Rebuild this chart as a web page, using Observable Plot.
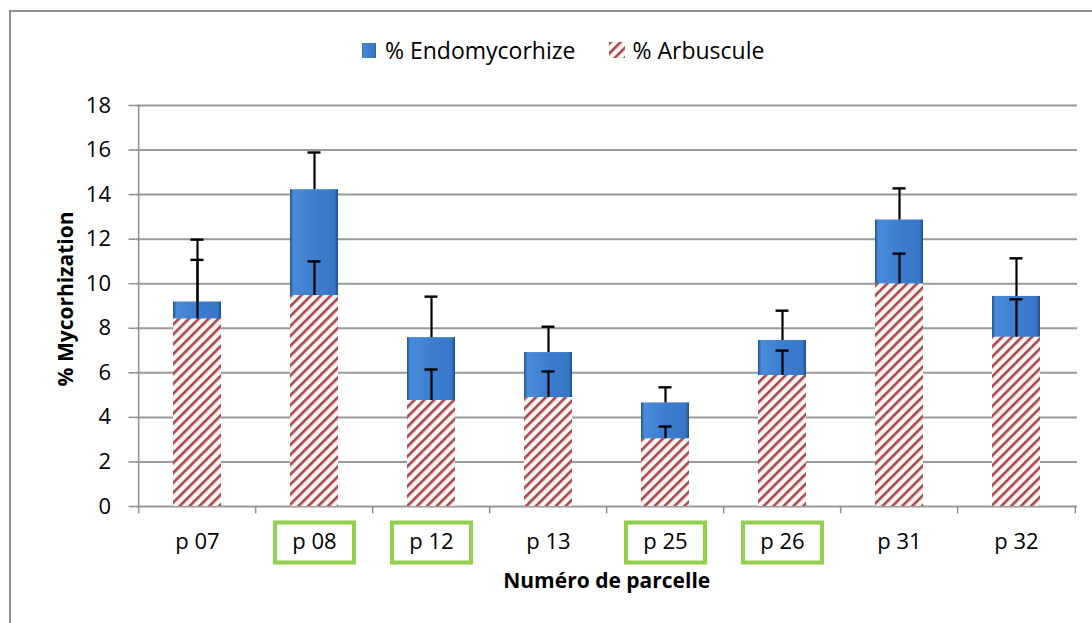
<!DOCTYPE html>
<html>
<head>
<meta charset="utf-8">
<script src="https://cdn.jsdelivr.net/npm/d3@7"></script>
<script src="https://cdn.jsdelivr.net/npm/@observablehq/plot@0.6"></script>
<style>
  html, body { margin: 0; padding: 0; background: #fff; overflow: hidden; }
  body { width: 1092px; height: 623px; position: relative; font-family: "Open Sans", sans-serif; }
  #frame { position: absolute; left: 9px; top: 10px; width: 1100px; height: 700px; border: 2px solid #8e8e8e; box-sizing: border-box; }
  #legend { position: relative; height: 80px; box-sizing: border-box; padding-top: 36px; padding-left: 362px; display: flex; align-items: flex-start; font-size: 23px; line-height: 28px; color: #000; }
  #legend .item { display: flex; align-items: center; height: 28px; }
  #legend svg { display: block; }
  #chart { position: relative; }
</style>
</head>
<body>
<svg width="0" height="0" style="position:absolute">
  <defs>
    <linearGradient id="blueH" x1="0" y1="0" x2="1" y2="0">
      <stop offset="0" stop-color="#25548f"/>
      <stop offset="0.07" stop-color="#4a8bd9"/>
      <stop offset="0.5" stop-color="#3c7dcf"/>
      <stop offset="0.93" stop-color="#3877c8"/>
      <stop offset="1" stop-color="#214c88"/>
    </linearGradient>
    <pattern id="hatch" patternUnits="userSpaceOnUse" width="7" height="7" patternTransform="rotate(45)">
      <rect x="0" y="0" width="7" height="7" fill="#fdf3f3"/>
      <rect x="0" y="0" width="2.6" height="7" fill="#a3484b"/>
    </pattern>
  </defs>
</svg>
<div id="frame"></div>
<div id="legend">
  <div class="item"><svg width="14" height="15"><rect width="14" height="15" fill="url(#blueH)"/></svg><span style="margin-left:9px">% Endomycorhize</span></div>
  <div class="item" style="margin-left:34px"><svg width="16" height="16"><rect width="16" height="16" fill="url(#hatch)"/></svg><span style="margin-left:7px">% Arbuscule</span></div>
</div>
<div id="chart"></div>
<script>
const categories = ["p 07", "p 08", "p 12", "p 13", "p 25", "p 26", "p 31", "p 32"];
const endomycorhize = [9.18, 14.22, 7.58, 6.91, 4.65, 7.45, 12.86, 9.43];
const endomycorhizeErr = [2.80, 1.67, 1.84, 1.16, 0.70, 1.34, 1.42, 1.71];
const arbuscule = [8.42, 9.47, 4.76, 4.89, 3.04, 5.88, 9.99, 7.60];
const arbusculeErr = [2.65, 1.53, 1.39, 1.17, 0.55, 1.12, 1.36, 1.70];
const highlighted = ["p 08", "p 12", "p 25", "p 26"];
const yTicks = [0, 2, 4, 6, 8, 10, 12, 14, 16, 18];

const endoData = categories.map((c, i) => ({cat: c, v: endomycorhize[i], e: endomycorhizeErr[i]}));
const arbData = categories.map((c, i) => ({cat: c, v: arbuscule[i], e: arbusculeErr[i]}));

const W = 1092, H = 543;
const mL = 135.5, mR = 15, mT = 25, mB = 117;
const step = (W - mL - mR) / categories.length;
const gray = "#8e8e8e";
const boxSymbol = {draw(ctx) { ctx.rect(-39.5, -20, 79, 40); }};

const plot = Plot.plot({
  width: W, height: H,
  marginLeft: mL, marginRight: mR, marginTop: mT, marginBottom: mB,
  style: {fontFamily: "'Open Sans', sans-serif", fontSize: "22px", color: "#000", background: "transparent", overflow: "visible"},
  x: {type: "band", domain: categories, paddingInner: 0.592, paddingOuter: 0.296, label: null},
  y: {domain: [0, 18], label: null},
  marks: [
    Plot.gridY(yTicks, {stroke: "#9a9a9a", strokeOpacity: 1, strokeWidth: 2}),
    Plot.axisY(yTicks, {tickSize: 7, tickPadding: 18, stroke: gray, strokeWidth: 1.5, fill: "#000", fontSize: 22, label: null, tickFormat: d => d}),
    Plot.axisX({tickSize: 0, tickPadding: 27, fill: "#000", fontSize: 22, label: null}),
    // y axis line
    Plot.ruleX([categories[0]], {x: d => d, dx: -step / 2, y1: 0, y2: 18, stroke: gray, strokeWidth: 1.5}),
    // category separators on the x axis
    Plot.ruleX(categories, {x: d => d, dx: -step / 2, y1: 0, y2: -0.33, stroke: gray, strokeWidth: 1.5}),
    Plot.ruleX([categories[categories.length - 1]], {x: d => d, dx: step / 2, y1: 0, y2: -0.33, stroke: gray, strokeWidth: 1.5}),
    // endomycorhize bars + error
    Plot.barY(endoData, {x: "cat", y: "v", fill: "url(#blueH)"}),
    Plot.ruleX(endoData, {x: "cat", y1: "v", y2: d => d.v + d.e, stroke: "#000", strokeWidth: 2.2}),
    Plot.tickY(endoData, {x: "cat", y: d => d.v + d.e, insetLeft: 17.5, insetRight: 17.5, stroke: "#000", strokeWidth: 2.4}),
    // arbuscule bars + error
    Plot.barY(arbData, {x: "cat", y: "v", fill: "url(#hatch)"}),
    Plot.ruleX(arbData, {x: "cat", y1: "v", y2: d => d.v + d.e, stroke: "#000", strokeWidth: 2.2}),
    Plot.tickY(arbData, {x: "cat", y: d => d.v + d.e, insetLeft: 17.5, insetRight: 17.5, stroke: "#000", strokeWidth: 2.4}),
    // highlighted plots (green boxes)
    Plot.dot(highlighted, {x: d => d, frameAnchor: "bottom", dy: 36, symbol: boxSymbol, r: 10, stroke: "#92d050", strokeWidth: 4, fill: "none"}),
    // axis titles
    Plot.text(["Numéro de parcelle"], {frameAnchor: "bottom", dy: 81, fontWeight: "bold", fontSize: 21, fill: "#000"}),
    Plot.text(["% Mycorhization"], {frameAnchor: "left", textAnchor: "middle", rotate: -90, dx: -69.5, dy: -7, fontWeight: "bold", fontSize: 21, fill: "#000"})
  ]
});
document.getElementById("chart").appendChild(plot);
</script>
</body>
</html>
